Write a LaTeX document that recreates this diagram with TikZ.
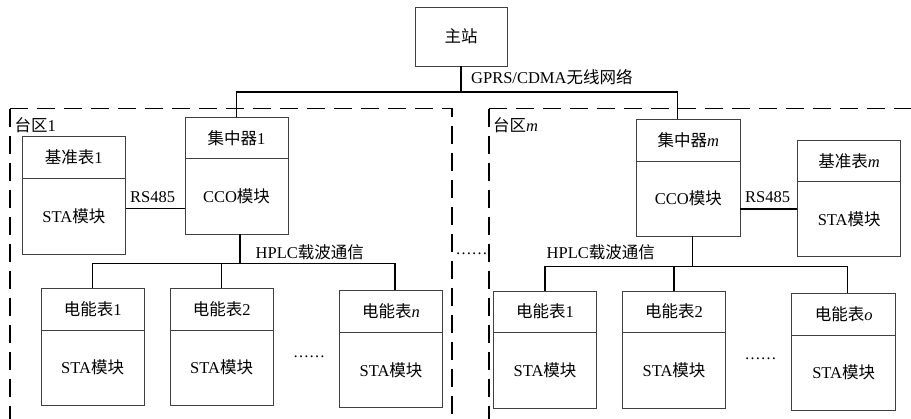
\documentclass[tikz,border=0pt]{standalone}
\usepackage{fontspec}
\setmainfont{Liberation Serif}
\newfontfamily\cjk{Noto Sans CJK SC}
\newcommand{\zh}[1]{{\cjk #1}}
\tikzset{
  part/.style={draw=black!75, line width=0.7pt, inner sep=0pt, font=\fontsize{16.5}{19}\selectfont},
  conn/.style={line width=1.3pt, black},
  zone/.style={line width=1.5pt, dash pattern=on 18pt off 9pt},
  lbl/.style={inner sep=0pt, font=\fontsize{16.5}{19}\selectfont, anchor=west},
  dotsnode/.style={inner sep=0pt, font=\fontsize{16}{19}\selectfont},
}
% name x1 x2 ytop ydiv ybot title body
\newcommand{\twobox}[8]{%
  \node[part, minimum width={(#3-#2)*1pt}, minimum height={(#5-#4)*1pt}] (#1t) at ({(#2+#3)/2},{(#4+#5)/2}) {#7};
  \node[part, minimum width={(#3-#2)*1pt}, minimum height={(#6-#5)*1pt}] (#1b) at ({(#2+#3)/2},{(#5+#6)/2}) {#8};
}
\begin{document}
\begin{tikzpicture}[x=1pt,y=-1pt]
\useasboundingbox (0,0) rectangle (911,419);
% zones
\draw[zone] (10,108.7) -- (452,108.7) -- (452,419);
\draw[zone] (10,108.7) -- (10,419);
\draw[zone] (489,108.7) -- (911,108.7);
\draw[zone] (489,108.7) -- (489,419);
\node[lbl] (z1) at (14.5,125) {\zh{台区}1};
\node[lbl] (zm) at (493,125) {\zh{台区}\textit{m}};
% master station
\node[part, minimum width=92pt, minimum height=59pt] (zz) at (461,36.5) {\zh{主站}};
% concentrators and reference meters
\twobox{jz1}{185}{288}{117.3}{158.7}{234}{\zh{集中器}1}{CCO\zh{模块}}
\twobox{jzm}{636.7}{740}{119.7}{161}{236}{\zh{集中器}\textit{m}}{CCO\zh{模块}}
\twobox{jb1}{22}{125.7}{136.7}{178.7}{254}{\zh{基准表}1}{STA\zh{模块}}
\twobox{jbm}{797.7}{900.7}{140}{181.7}{256}{\zh{基准表}\textit{m}}{STA\zh{模块}}
% meters zone 1
\twobox{m11}{41}{144.3}{288.3}{330}{405}{\zh{电能表}1}{STA\zh{模块}}
\twobox{m12}{170}{273.3}{288.3}{330}{405}{\zh{电能表}2}{STA\zh{模块}}
\twobox{m1n}{339.3}{442.7}{290.7}{332.7}{407.3}{\zh{电能表}\textit{n}}{STA\zh{模块}}
% meters zone m
\twobox{m21}{493.3}{596.7}{291}{332.3}{408.3}{\zh{电能表}1}{STA\zh{模块}}
\twobox{m22}{622.3}{725.7}{291}{332.3}{408.3}{\zh{电能表}2}{STA\zh{模块}}
\twobox{m2o}{791.7}{895.7}{293.3}{335.3}{410}{\zh{电能表}\textit{o}}{STA\zh{模块}}
% WAN bus
\coordinate (busy) at (0,92);
\draw[conn] (zz.south) -- (zz.south |- busy) -| (jz1t.north);
\draw[conn] (zz.south |- busy) -| ([xshift=-10.6pt]jzmt.north);
\node[lbl] (lg) at (471,77) {GPRS/CDMA\zh{无线网络}};
% RS485
\coordinate (r1) at (0,208.3);
\draw[conn] (r1 -| jb1b.east) -- (r1 -| jz1b.west);
\node[lbl] (lr1) at (130,197) {RS485};
\coordinate (r2) at (0,209);
\draw[conn] (r2 -| jzmb.east) -- (r2 -| jbmb.west);
\node[lbl] (lr2) at (745,197) {RS485};
% HPLC zone 1
\coordinate (h1) at (0,263.3);
\draw[conn] ([xshift=3.5pt]jz1b.south) -- ([xshift=3.5pt]jz1b.south |- h1);
\draw[conn] (m11t.north) |- ([xshift=4pt]m1nt.north |- h1) -- ([xshift=4pt]m1nt.north);
\draw[conn] (m12t.north) -- (m12t.north |- h1);
\node[lbl] (lh1) at (255.5,252) {HPLC\zh{载波通信}};
% HPLC zone m
\coordinate (h2) at (0,266.7);
\draw[conn] ([xshift=4pt]jzmb.south) -- ([xshift=4pt]jzmb.south |- h2);
\draw[conn] (m21t.north) |- ([xshift=3.6pt]m2ot.north |- h2) -- ([xshift=3.6pt]m2ot.north);
\draw[conn] (m22t.north) -- (m22t.north |- h2);
\node[lbl] (lh2) at (546.5,252.3) {HPLC\zh{载波通信}};
% ellipses
\node[dotsnode] (d1) at (309,357) {……};
\node[dotsnode] (d2) at (760.5,359) {……};
\node[dotsnode] (d0) at (471.5,253.3) {……};
\end{tikzpicture}
\end{document}
